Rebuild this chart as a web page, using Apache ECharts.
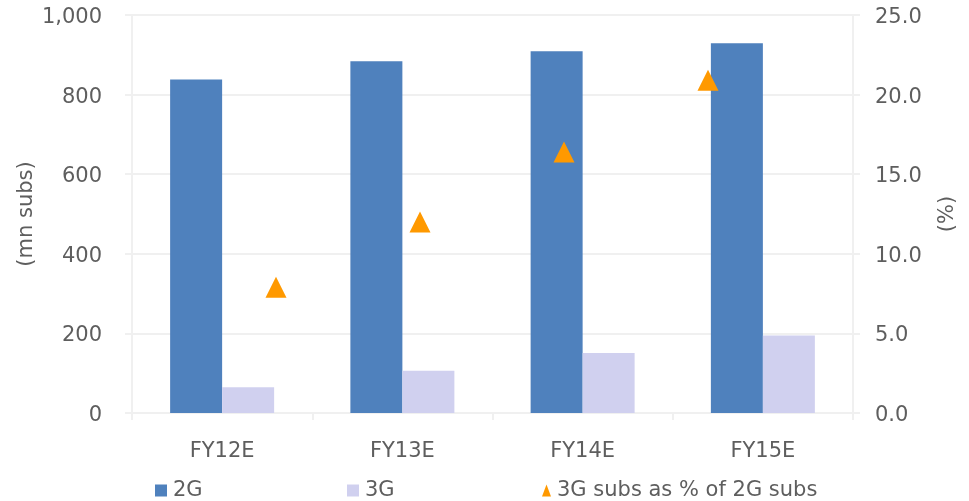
<!DOCTYPE html>
<html>
<head>
<meta charset="utf-8">
<script src="https://cdn.jsdelivr.net/npm/echarts@6/dist/echarts.min.js"></script>
<style>
  html, body { margin: 0; padding: 0; background: #ffffff; }
  #chart { width: 969px; height: 501px; }
</style>
</head>
<body>
<div id="chart"></div>
<script>
// Subscriber base by fiscal year (mn subs) and 3G share of 2G (%)
const categories = ['FY12E', 'FY13E', 'FY14E', 'FY15E'];
const subs2G = [838, 884, 909, 929];
const subs3G = [65, 106, 151, 195];
const share3Gof2G = [7.9, 12.0, 16.4, 20.9];
const leftTicks = { min: 0, max: 1000, interval: 200 };
const rightTicks = { min: 0, max: 25, interval: 5 };

const TEXT = '#5e5e5e';
const GRID = '#f0f0f0';
const FONT = 'DejaVu Sans';
const FS = 21;

const chart = echarts.init(document.getElementById('chart'), null, { renderer: 'canvas' });

const lineStyle = { color: GRID, width: 2 };
const legendText = { fontFamily: FONT, fontSize: FS, color: TEXT, padding: [0, 0, 0, 1] };

chart.setOption({
  backgroundColor: '#ffffff',
  animation: false,
  textStyle: { fontFamily: FONT, color: TEXT },
  grid: [
    { left: 132, right: 116, top: 15, bottom: 88 },
    { left: 204, right: 189, top: 15, bottom: 88 }
  ],
  legend: [
    {
      data: [{ name: '2G', icon: 'rect' }], left: 155, top: 480, padding: 0,
      itemWidth: 12, itemHeight: 12, textStyle: legendText
    },
    {
      data: [{ name: '3G', icon: 'rect' }], left: 347, top: 480, padding: 0,
      itemWidth: 12, itemHeight: 12, textStyle: legendText
    },
    {
      data: [{ name: '3G subs as % of 2G subs', icon: 'triangle' }], left: 542, top: 480, padding: 0,
      itemWidth: 9, itemHeight: 12, textStyle: legendText
    }
  ],
  xAxis: [
    {
      type: 'category', gridIndex: 0, data: categories,
      axisLine: { show: true, lineStyle: lineStyle },
      axisTick: { show: true, length: 7, lineStyle: lineStyle },
      axisLabel: { color: TEXT, fontSize: FS, fontFamily: FONT, margin: 28 },
      splitLine: { show: false }
    },
    {
      type: 'category', gridIndex: 1, data: categories, show: false
    }
  ],
  yAxis: [
    {
      type: 'value', gridIndex: 0, position: 'left',
      min: leftTicks.min, max: leftTicks.max, interval: leftTicks.interval,
      name: '(mn subs)', nameLocation: 'middle', nameGap: 95, nameMoveOverlap: false,
      nameTextStyle: { color: TEXT, fontSize: FS, fontFamily: FONT },
      axisLine: { show: true, lineStyle: lineStyle },
      axisTick: { show: true, length: 7, lineStyle: lineStyle },
      axisLabel: {
        color: TEXT, fontSize: FS, fontFamily: FONT, margin: 30,
        verticalAlign: 'top', lineHeight: 5,
        formatter: v => v.toLocaleString('en-US')
      },
      splitLine: { show: true, lineStyle: lineStyle }
    },
    {
      type: 'value', gridIndex: 0, position: 'right',
      min: rightTicks.min, max: rightTicks.max, interval: rightTicks.interval,
      name: '(%)', nameLocation: 'middle', nameGap: 84, nameMoveOverlap: false,
      nameTextStyle: { color: TEXT, fontSize: FS, fontFamily: FONT },
      axisLine: { show: true, lineStyle: lineStyle },
      axisTick: { show: true, length: 7, lineStyle: lineStyle },
      axisLabel: {
        color: TEXT, fontSize: FS, fontFamily: FONT, margin: 22,
        verticalAlign: 'top', lineHeight: 5,
        formatter: v => v.toFixed(1)
      },
      splitLine: { show: false }
    },
    {
      type: 'value', gridIndex: 1,
      min: rightTicks.min, max: rightTicks.max, show: false
    }
  ],
  series: [
    {
      name: '2G', type: 'bar', xAxisIndex: 0, yAxisIndex: 0,
      data: subs2G, barWidth: 52, barGap: '0%',
      itemStyle: { color: '#4f81bd' }
    },
    {
      name: '3G', type: 'bar', xAxisIndex: 0, yAxisIndex: 0,
      data: subs3G, barWidth: 52, barGap: '0%',
      itemStyle: { color: '#d0d0ef' }
    },
    {
      name: '3G subs as % of 2G subs', type: 'scatter', xAxisIndex: 1, yAxisIndex: 2,
      data: share3Gof2G, symbol: 'triangle', symbolSize: 21,
      itemStyle: { color: '#ff9900', opacity: 1 }
    }
  ]
});
</script>
</body>
</html>
